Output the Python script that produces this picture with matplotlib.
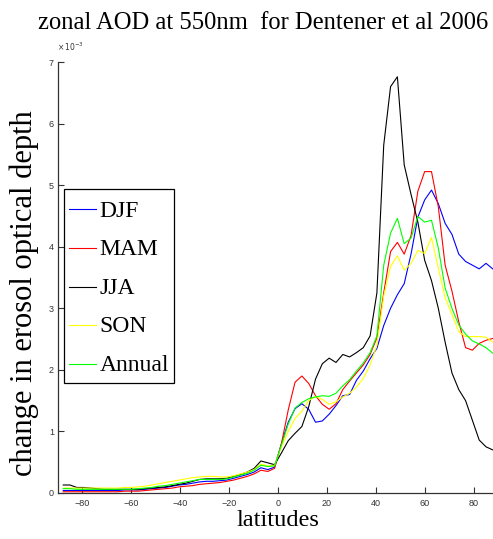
import matplotlib
matplotlib.use("Agg")
import matplotlib.pyplot as plt
import numpy as np

# ---- data (values in units of 1e-3) ----
latitudes = [-87.86, -85.10, -82.31, -79.53, -76.74, -73.95, -71.16, -68.37, -65.58, -62.79,
             -60.00, -57.21, -54.42, -51.63, -48.84, -46.05, -43.25, -40.46, -37.67, -34.88,
             -32.09, -29.30, -26.51, -23.72, -20.93, -18.14, -15.35, -12.56, -9.77, -6.98,
             -4.19, -1.40, 1.40, 4.19, 6.98, 9.77, 12.56, 15.35, 18.14, 20.93,
             23.72, 26.51, 29.30, 32.09, 34.88, 37.67, 40.46, 43.25, 46.05, 48.84,
             51.63, 54.42, 57.21, 60.00, 62.79, 65.58, 68.37, 71.16, 73.95, 76.74,
             79.53, 82.31, 85.10, 87.86]

djf = [0.04, 0.04, 0.04, 0.04, 0.04, 0.04, 0.04, 0.04, 0.04, 0.05,
       0.05, 0.05, 0.06, 0.07, 0.08, 0.09, 0.11, 0.13, 0.14, 0.16,
       0.18, 0.19, 0.19, 0.20, 0.21, 0.24, 0.27, 0.30, 0.34, 0.41,
       0.38, 0.42,
       0.80, 1.15, 1.37, 1.45, 1.36, 1.15, 1.17, 1.28, 1.42, 1.58,
       1.60, 1.83, 1.98, 2.18, 2.35, 2.72, 3.00, 3.22, 3.40, 3.88,
       4.48, 4.76, 4.92, 4.70, 4.38, 4.20, 3.88, 3.76, 3.70, 3.64,
       3.73, 3.64]

mam = [0.02, 0.02, 0.02, 0.02, 0.02, 0.02, 0.02, 0.02, 0.02, 0.03,
       0.03, 0.03, 0.04, 0.05, 0.06, 0.07, 0.08, 0.10, 0.11, 0.12,
       0.14, 0.15, 0.16, 0.17, 0.19, 0.21, 0.24, 0.27, 0.31, 0.37,
       0.35, 0.40,
       0.80, 1.35, 1.80, 1.90, 1.78, 1.58, 1.44, 1.36, 1.45, 1.68,
       1.82, 1.95, 2.08, 2.25, 2.52, 3.25, 3.92, 4.07, 3.88, 4.18,
       4.90, 5.22, 5.22, 4.65, 3.70, 3.28, 2.78, 2.36, 2.32, 2.43,
       2.48, 2.51]

jja = [0.13, 0.13, 0.09, 0.09, 0.08, 0.07, 0.06, 0.06, 0.06, 0.06,
       0.06, 0.06, 0.07, 0.08, 0.09, 0.10, 0.12, 0.14, 0.16, 0.19,
       0.22, 0.23, 0.23, 0.23, 0.24, 0.27, 0.30, 0.34, 0.40, 0.52,
       0.49, 0.46,
       0.65, 0.85, 0.97, 1.08, 1.40, 1.85, 2.10, 2.19, 2.12, 2.25,
       2.21, 2.28, 2.36, 2.55, 3.25, 5.65, 6.60, 6.76, 5.33, 4.85,
       4.40, 3.78, 3.45, 3.00, 2.45, 1.95, 1.68, 1.50, 1.18, 0.86,
       0.75, 0.70]

son = [0.08, 0.08, 0.08, 0.08, 0.08, 0.08, 0.08, 0.08, 0.08, 0.09,
       0.09, 0.10, 0.11, 0.13, 0.15, 0.17, 0.19, 0.21, 0.23, 0.25,
       0.26, 0.27, 0.27, 0.26, 0.26, 0.28, 0.31, 0.34, 0.38, 0.47,
       0.44, 0.45,
       0.75, 1.00, 1.21, 1.33, 1.50, 1.57, 1.52, 1.44, 1.48, 1.56,
       1.62, 1.72, 1.86, 2.08, 2.40, 3.20, 3.68, 3.85, 3.62, 3.73,
       3.94, 3.89, 4.15, 3.65, 3.17, 2.90, 2.62, 2.54, 2.54, 2.54,
       2.53, 2.45]

annual = [0.07, 0.07, 0.06, 0.06, 0.06, 0.06, 0.06, 0.06, 0.06, 0.06,
          0.06, 0.07, 0.08, 0.09, 0.11, 0.12, 0.14, 0.16, 0.18, 0.20,
          0.22, 0.22, 0.22, 0.22, 0.23, 0.26, 0.29, 0.32, 0.37, 0.45,
          0.43, 0.44,
          0.78, 1.12, 1.38, 1.47, 1.53, 1.56, 1.58, 1.57, 1.62, 1.74,
          1.84, 1.98, 2.11, 2.28, 2.55, 3.70, 4.22, 4.46, 4.05, 4.14,
          4.49, 4.40, 4.43, 3.98, 3.33, 3.00, 2.73, 2.58, 2.47, 2.42,
          2.36, 2.27]

series_names = ["DJF", "MAM", "JJA", "SON", "Annual"]
series_values = [djf, mam, jja, son, annual]
series_colors = ["#0000ff", "#ff0000", "#000000", "#ffff00", "#00ff00"]

x_ticks = [-80, -60, -40, -20, 0, 20, 40, 60, 80]
y_ticks = [0, 1, 2, 3, 4, 5, 6, 7]

title_text = "zonal AOD at 550nm  for Dentener et al 2006"
xlabel_text = "latitudes"
ylabel_text = "change in erosol optical depth"

# ---- figure ----
W, H = 493, 539
fig = plt.figure(figsize=(W / 100, H / 100), dpi=100)
ax = fig.add_axes([58 / W, 46 / H, (498 - 58) / W, (493 - 62) / H])

for name, vals, col in zip(series_names, series_values, series_colors):
    ax.plot(latitudes, vals, color=col, lw=0.8, label=name)

ax.set_xlim(-90, 90)
ax.set_ylim(0, 7)
ax.set_xticks(x_ticks)
ax.set_yticks(y_ticks)
ax.tick_params(direction="in", length=4, width=0.8, labelsize=6.5,
               labelcolor="#333333", color="#333333")
ax.tick_params(axis="x", pad=4)
ax.tick_params(axis="y", pad=3)
for lab in ax.get_xticklabels() + ax.get_yticklabels():
    lab.set_family("Liberation Sans")
ax.spines["top"].set_visible(False)
ax.spines["right"].set_visible(False)
for s in ("left", "bottom"):
    ax.spines[s].set_color("#333333")
    ax.spines[s].set_linewidth(0.9)

fig.text(57 / W, 1 - 47 / H, r"$\times\,10^{-3}$", fontsize=5.5, color="#333333",
         ha="left", va="center")

fig.text(263 / W, 1 - 23 / H, title_text, fontsize=17.7, family="Liberation Serif",
         ha="center", va="center")
fig.text(278 / W, 1 - 521 / H, xlabel_text, fontsize=17.5, family="Liberation Serif",
         ha="center", va="center")
fig.text(24 / W, 1 - 293 / H, ylabel_text, fontsize=22, family="Liberation Serif",
         ha="center", va="center", rotation=90)

leg = ax.legend(loc="upper left", bbox_to_anchor=(64 / W, 1 - 189 / H),
                bbox_transform=fig.transFigure,
                prop={"family": "Liberation Serif", "size": 17},
                frameon=True, fancybox=False, framealpha=1, edgecolor="black",
                borderpad=0.2, handlelength=1.15, handletextpad=0.15,
                handleheight=1.6, labelspacing=0.35, borderaxespad=0)
leg.get_frame().set_linewidth(0.9)
for hl in leg.get_lines():
    hl.set_ydata(np.asarray(hl.get_ydata(), dtype=float) - 3.0)

fig.savefig("out.png", dpi=100)
